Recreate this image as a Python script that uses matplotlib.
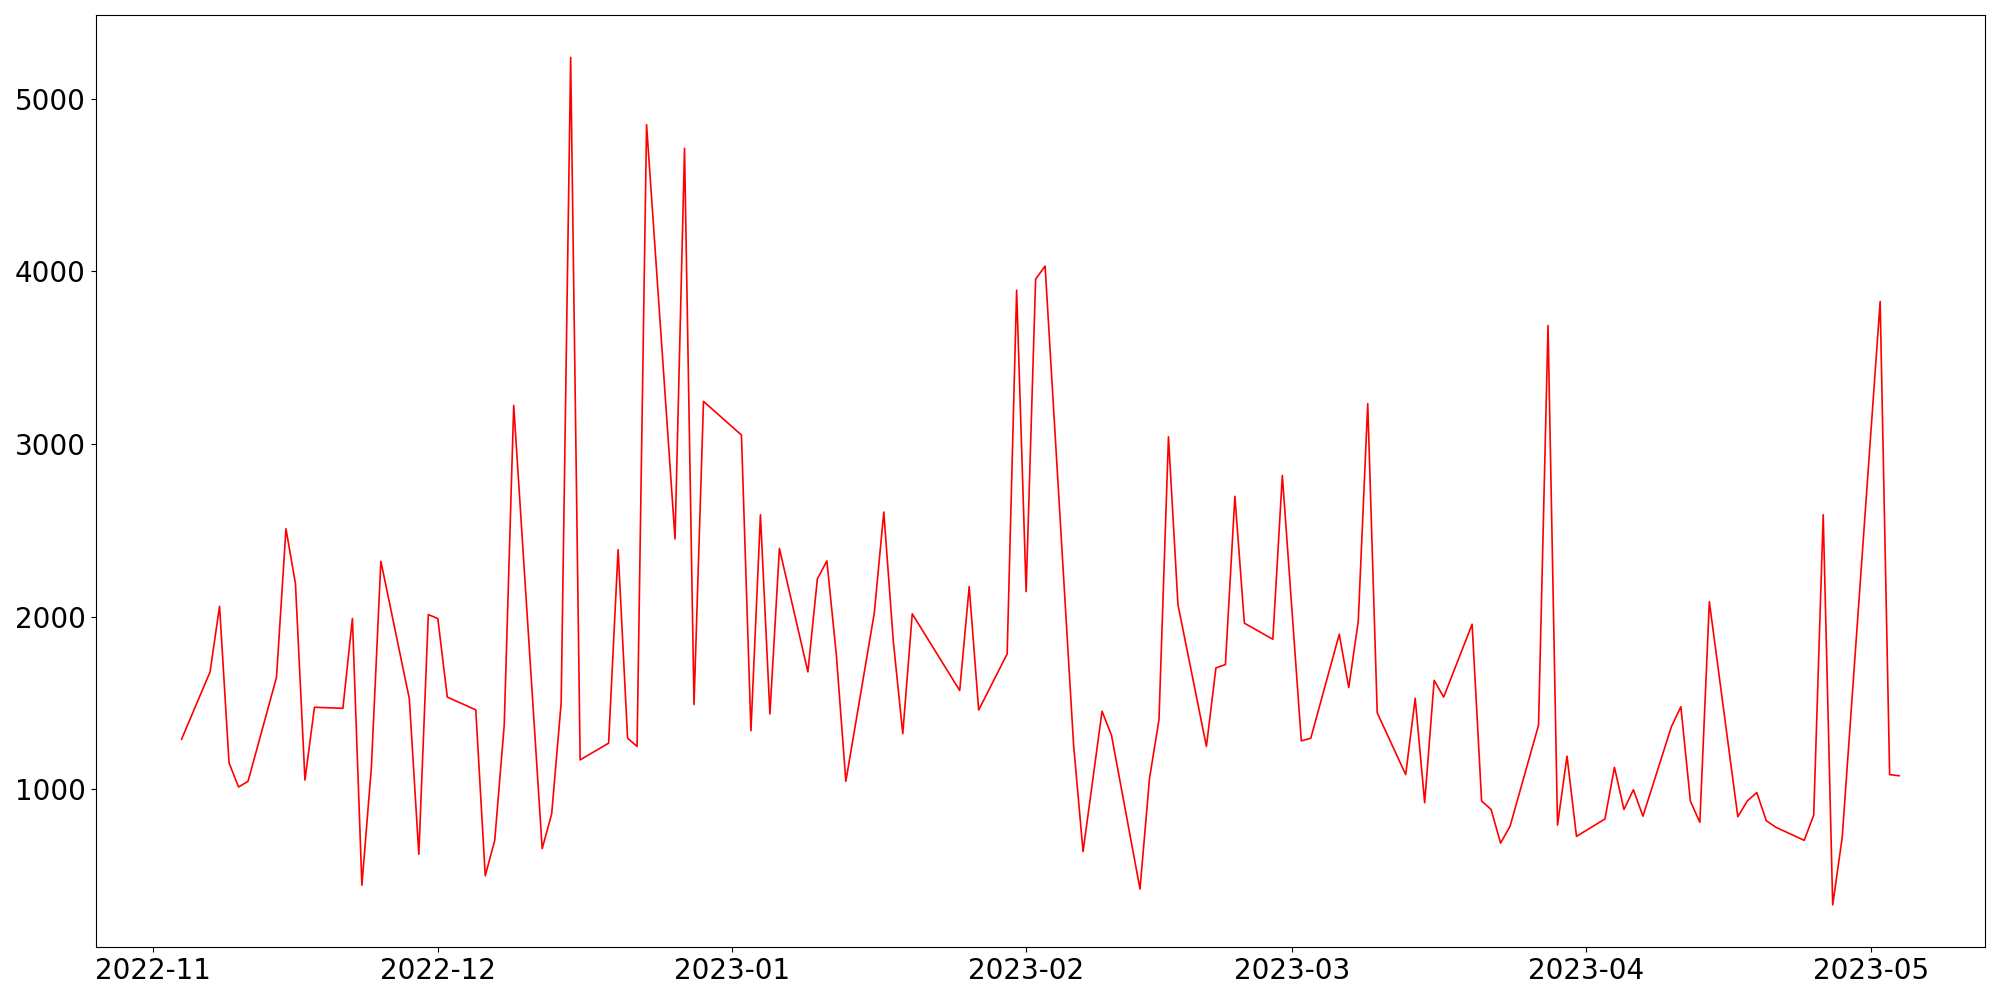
import pandas as pd
import matplotlib
matplotlib.use("Agg")
import matplotlib.pyplot as plt

# trading days (some holidays missing) and daily values
dates = [
    "2022-11-04", "2022-11-07", "2022-11-08", "2022-11-09", "2022-11-10", "2022-11-11",
    "2022-11-14", "2022-11-15", "2022-11-16", "2022-11-17", "2022-11-18",
    "2022-11-21", "2022-11-22", "2022-11-23", "2022-11-24", "2022-11-25",
    "2022-11-28", "2022-11-29", "2022-11-30", "2022-12-01", "2022-12-02",
    "2022-12-05", "2022-12-06", "2022-12-07", "2022-12-08", "2022-12-09",
    "2022-12-12", "2022-12-13", "2022-12-14", "2022-12-15", "2022-12-16",
    "2022-12-19", "2022-12-20", "2022-12-21", "2022-12-22", "2022-12-23",
    "2022-12-26", "2022-12-27", "2022-12-28", "2022-12-29",
    "2023-01-02", "2023-01-03", "2023-01-04", "2023-01-05", "2023-01-06",
    "2023-01-09", "2023-01-10", "2023-01-11", "2023-01-12", "2023-01-13",
    "2023-01-16", "2023-01-17", "2023-01-18", "2023-01-19", "2023-01-20",
    "2023-01-25", "2023-01-26", "2023-01-27",
    "2023-01-30", "2023-01-31", "2023-02-01", "2023-02-02", "2023-02-03",
    "2023-02-06", "2023-02-07", "2023-02-09", "2023-02-10",
    "2023-02-13", "2023-02-14", "2023-02-15", "2023-02-16", "2023-02-17",
    "2023-02-20", "2023-02-21", "2023-02-22", "2023-02-23", "2023-02-24",
    "2023-02-27", "2023-02-28", "2023-03-02", "2023-03-03",
    "2023-03-06", "2023-03-07", "2023-03-08", "2023-03-09", "2023-03-10",
    "2023-03-13", "2023-03-14", "2023-03-15", "2023-03-16", "2023-03-17",
    "2023-03-20", "2023-03-21", "2023-03-22", "2023-03-23", "2023-03-24",
    "2023-03-27", "2023-03-28", "2023-03-29", "2023-03-30", "2023-03-31",
    "2023-04-03", "2023-04-04", "2023-04-05", "2023-04-06", "2023-04-07",
    "2023-04-10", "2023-04-11", "2023-04-12", "2023-04-13", "2023-04-14",
    "2023-04-17", "2023-04-18", "2023-04-19", "2023-04-20", "2023-04-21",
    "2023-04-24", "2023-04-25", "2023-04-26", "2023-04-27", "2023-04-28",
    "2023-05-02", "2023-05-03", "2023-05-04",
]

values = [
    1290, 1680, 2060, 1153, 1013, 1046,
    1648, 2509, 2190, 1053, 1475,
    1469, 1989, 444, 1127, 2321,
    1524, 623, 2012, 1989, 1534,
    1460, 499, 704, 1371, 3224,
    656, 857, 1501, 5240, 1170,
    1267, 2388, 1296, 1248, 4850,
    2450, 4713, 1491, 3247,
    3052, 1339, 2590, 1436, 2395,
    1680, 2218, 2323, 1779, 1046,
    2021, 2606, 1859, 1322, 2016,
    1572, 2174, 1459,
    1784, 3891, 2145, 3955, 4031,
    1258, 639, 1452, 1312,
    422, 1062, 1403, 3042, 2070,
    1248, 1703, 1722, 2697, 1962,
    1869, 2818, 1280, 1296,
    1898, 1589, 1972, 3234, 1443,
    1085, 1527, 922, 1631, 1534,
    1956, 932, 883, 688, 786,
    1371, 3686, 792, 1192, 727,
    828, 1127, 883, 997, 844,
    1362, 1478, 932, 808, 2086,
    841, 932, 981, 818, 780,
    704, 851, 2590, 330, 720,
    3826, 1085, 1078,
]

x = pd.to_datetime(dates)

fig, ax = plt.subplots(figsize=(20, 10), dpi=100)
ax.plot(x, values, color="red", linewidth=1.2)
ax.tick_params(axis="both", labelsize=20)
plt.tight_layout()
plt.savefig("out.png")
